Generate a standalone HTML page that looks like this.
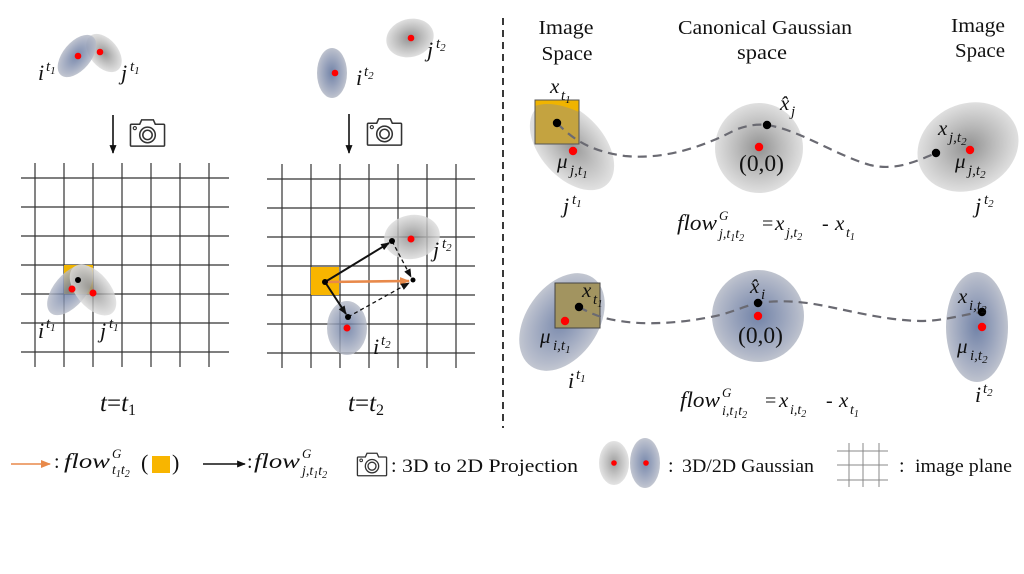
<!DOCTYPE html>
<html><head><meta charset="utf-8"><style>
html,body{margin:0;padding:0;background:#fff;}
svg{display:block}
text{font-family:"Liberation Serif",serif;fill:#111}
.it{font-style:italic}
</style></head><body>
<svg width="1024" height="574" viewBox="0 0 1024 574" xmlns="http://www.w3.org/2000/svg">
<defs>
<radialGradient id="gg" cx="50%" cy="50%" r="50%">
<stop offset="0" stop-color="#858585"/>
<stop offset="0.5" stop-color="#b3b3b3"/>
<stop offset="0.85" stop-color="#d0d0d0"/>
<stop offset="1" stop-color="#dcdcdc"/>
</radialGradient>
<radialGradient id="gb" cx="50%" cy="50%" r="50%">
<stop offset="0" stop-color="#62759e"/>
<stop offset="0.5" stop-color="#8b97b3"/>
<stop offset="0.85" stop-color="#a9b0c2"/>
<stop offset="1" stop-color="#b8bdc9"/>
</radialGradient>
<marker id="ab" viewBox="0 0 10 8" refX="9" refY="4" markerWidth="9" markerHeight="7" markerUnits="userSpaceOnUse" orient="auto"><path d="M0,0 L10,4 L0,8 z" fill="#111"/></marker>
<marker id="ao" viewBox="0 0 10 8" refX="9" refY="4" markerWidth="10" markerHeight="8" markerUnits="userSpaceOnUse" orient="auto"><path d="M0,0 L10,4 L0,8 z" fill="#e8894a"/></marker>
<symbol id="cam" viewBox="0 0 38 30">
<path d="M2.5,6 H11 L13,1.5 H25 L27,6 H35.5 Q36.5,6 36.5,7 V27.5 Q36.5,28.5 35.5,28.5 H2.5 Q1.5,28.5 1.5,27.5 V7 Q1.5,6 2.5,6 Z" fill="none" stroke="#333" stroke-width="1.6"/>
<circle cx="19" cy="17" r="8" fill="none" stroke="#333" stroke-width="1.6"/>
<circle cx="19" cy="17" r="4.8" fill="none" stroke="#333" stroke-width="1.6"/>
<circle cx="6" cy="10" r="1.6" fill="none" stroke="#333" stroke-width="1.2"/>
</symbol>
</defs>

<!-- ============ LEFT PANEL (t1) ============ -->
<ellipse cx="104" cy="53" rx="14" ry="22" transform="rotate(-40 104 53)" fill="url(#gg)" opacity="0.85"/>
<ellipse cx="77" cy="56" rx="14" ry="25" transform="rotate(40 77 56)" fill="url(#gb)" opacity="0.85"/>
<circle cx="78" cy="56" r="3.3" fill="#f00"/>
<circle cx="100" cy="52" r="3.3" fill="#f00"/>
<text x="38" y="80" class="it" font-size="22">i</text>
<text x="46" y="71" class="it" font-size="15">t<tspan font-size="11" dy="3">1</tspan></text>
<text x="121" y="80" class="it" font-size="22">j</text>
<text x="130" y="71" class="it" font-size="15">t<tspan font-size="11" dy="3">1</tspan></text>
<line x1="113" y1="115" x2="113" y2="153" stroke="#111" stroke-width="1.6" marker-end="url(#ab)"/>
<use href="#cam" x="129" y="118" width="37" height="30"/>

<g stroke="#333" stroke-width="1.2">
<path d="M35,163V367 M64,163V367 M93,163V367 M122,163V367 M151,163V367 M180,163V367 M209,163V367"/>
<path d="M21,178H229 M21,207H229 M21,236H229 M21,265H229 M21,294H229 M21,323H229 M21,352H229"/>
</g>
<rect x="64" y="265" width="29" height="29" fill="#f0b400"/>
<ellipse cx="70" cy="290" rx="16" ry="30" transform="rotate(40 70 290)" fill="url(#gb)" opacity="0.8"/>
<ellipse cx="93" cy="290" rx="17" ry="30" transform="rotate(-40 93 290)" fill="url(#gg)" opacity="0.78"/>
<circle cx="78" cy="280" r="3" fill="#000"/>
<circle cx="72" cy="289" r="3.5" fill="#f00"/>
<circle cx="93" cy="293" r="3.5" fill="#f00"/>
<text x="38" y="338" class="it" font-size="22">i</text>
<text x="46" y="328" class="it" font-size="15">t<tspan font-size="11" dy="3">1</tspan></text>
<text x="100" y="338" class="it" font-size="22">j</text>
<text x="109" y="328" class="it" font-size="15">t<tspan font-size="11" dy="3">1</tspan></text>
<text x="100" y="411" font-size="25"><tspan class="it">t</tspan>=<tspan class="it">t</tspan><tspan font-size="16" dy="4">1</tspan></text>

<!-- ============ MIDDLE PANEL (t2) ============ -->
<ellipse cx="332" cy="73" rx="15" ry="25" fill="url(#gb)" opacity="0.9"/>
<circle cx="335" cy="73" r="3.3" fill="#f00"/>
<ellipse cx="410" cy="38" rx="24" ry="19" transform="rotate(-15 410 38)" fill="url(#gg)" opacity="0.9"/>
<circle cx="411" cy="38" r="3.3" fill="#f00"/>
<text x="356" y="85" class="it" font-size="22">i</text>
<text x="364" y="76" class="it" font-size="15">t<tspan font-size="11" dy="3">2</tspan></text>
<text x="427" y="57" class="it" font-size="22">j</text>
<text x="436" y="48" class="it" font-size="15">t<tspan font-size="11" dy="3">2</tspan></text>
<line x1="349" y1="114" x2="349" y2="153" stroke="#111" stroke-width="1.6" marker-end="url(#ab)"/>
<use href="#cam" x="366" y="117" width="37" height="30"/>

<g stroke="#333" stroke-width="1.2">
<path d="M282,164V368 M311,164V368 M340,164V368 M369,164V368 M398,164V368 M427,164V368 M456,164V368"/>
<path d="M267,179H475 M267,208H475 M267,237H475 M267,266H475 M267,295H475 M267,324H475 M267,353H475"/>
</g>
<ellipse cx="412" cy="237" rx="28" ry="22" transform="rotate(-10 412 237)" fill="url(#gg)" opacity="0.82"/>
<ellipse cx="347" cy="328" rx="20" ry="27" fill="url(#gb)" opacity="0.82"/>
<circle cx="411" cy="239" r="3.5" fill="#f00"/>
<circle cx="347" cy="328" r="3.5" fill="#f00"/>
<rect x="311" y="267" width="28" height="28" fill="#f8b500"/>
<line x1="325" y1="282" x2="409" y2="281" stroke="#e8894a" stroke-width="2.6" marker-end="url(#ao)"/>
<line x1="325" y1="282" x2="389" y2="243" stroke="#111" stroke-width="2" marker-end="url(#ab)"/>
<line x1="325" y1="282" x2="346" y2="314" stroke="#111" stroke-width="2" marker-end="url(#ab)"/>
<line x1="392" y1="241" x2="411" y2="277" stroke="#111" stroke-width="1.3" stroke-dasharray="4 3" marker-end="url(#ab)"/>
<line x1="348" y1="317" x2="409" y2="283" stroke="#111" stroke-width="1.3" stroke-dasharray="4 3" marker-end="url(#ab)"/>
<circle cx="325" cy="282" r="3" fill="#000"/>
<circle cx="392" cy="241" r="3" fill="#000"/>
<circle cx="348" cy="317" r="3" fill="#000"/>
<circle cx="413" cy="280" r="2.5" fill="#000"/>
<text x="433" y="257" class="it" font-size="22">j</text>
<text x="442" y="248" class="it" font-size="15">t<tspan font-size="11" dy="3">2</tspan></text>
<text x="373" y="354" class="it" font-size="22">i</text>
<text x="381" y="345" class="it" font-size="15">t<tspan font-size="11" dy="3">2</tspan></text>
<text x="348" y="411" font-size="25"><tspan class="it">t</tspan>=<tspan class="it">t</tspan><tspan font-size="16" dy="4">2</tspan></text>

<!-- divider -->
<line x1="503" y1="18" x2="503" y2="428" stroke="#222" stroke-width="1.8" stroke-dasharray="7 5"/>

<!-- ============ RIGHT PANEL ============ -->
<text x="566" y="34" font-size="20" text-anchor="middle" textLength="55" lengthAdjust="spacingAndGlyphs">Image</text>
<text x="567" y="60" font-size="20" text-anchor="middle" textLength="51" lengthAdjust="spacingAndGlyphs">Space</text>
<text x="765" y="34" font-size="20" text-anchor="middle" textLength="174" lengthAdjust="spacingAndGlyphs">Canonical Gaussian</text>
<text x="762" y="59" font-size="20" text-anchor="middle" textLength="50" lengthAdjust="spacingAndGlyphs">space</text>
<text x="978" y="32" font-size="20" text-anchor="middle" textLength="54" lengthAdjust="spacingAndGlyphs">Image</text>
<text x="980" y="57" font-size="20" text-anchor="middle" textLength="50" lengthAdjust="spacingAndGlyphs">Space</text>

<!-- top row (j) -->
<ellipse cx="572" cy="146" rx="32" ry="52" transform="rotate(-42 572 146)" fill="url(#gg)" opacity="0.85"/>
<rect x="535" y="100" width="44" height="44" fill="#f0b400"/>
<path d="M535,106 Q552,100 579,112 L579,144 L535,144 Z" fill="#8f8f8f" opacity="0.45"/>
<rect x="535" y="100" width="44" height="44" fill="none" stroke="#555" stroke-width="1"/>
<ellipse cx="759" cy="148" rx="44" ry="45" fill="url(#gg)" opacity="0.9"/>
<ellipse cx="968" cy="147" rx="52" ry="43" transform="rotate(-25 968 147)" fill="url(#gg)" opacity="0.9"/>
<path d="M557,123 C575,142 595,152 625,156 C665,160 705,146 735,130 C748,125 757,124 767,125 C800,130 835,155 870,165 C895,171 915,162 936,153" fill="none" stroke="#6a6a72" stroke-width="2.2" stroke-dasharray="9 6"/>
<circle cx="557" cy="123" r="4.2" fill="#000"/>
<circle cx="573" cy="151" r="4.2" fill="#f00"/>
<circle cx="767" cy="125" r="4.2" fill="#000"/>
<circle cx="759" cy="147" r="4.2" fill="#f00"/>
<circle cx="936" cy="153" r="4.2" fill="#000"/>
<circle cx="970" cy="150" r="4.2" fill="#f00"/>

<text x="550" y="93" class="it" font-size="21">x</text>
<text x="561" y="100" class="it" font-size="15">t<tspan font-size="11" dy="3">1</tspan></text>
<text x="557" y="168" class="it" font-size="21">μ</text>
<text x="570" y="175" class="it" font-size="15">j,t<tspan font-size="11" dy="3">1</tspan></text>
<text x="563" y="213" class="it" font-size="22">j</text>
<text x="572" y="204" class="it" font-size="15">t<tspan font-size="11" dy="3">1</tspan></text>
<text x="780" y="110" class="it" font-size="21">x̂</text>
<text x="791" y="116" class="it" font-size="15">j</text>
<text x="739" y="171" font-size="23" textLength="45" lengthAdjust="spacingAndGlyphs">(0,0)</text>
<text x="938" y="135" class="it" font-size="21">x</text>
<text x="949" y="142" class="it" font-size="15">j,t<tspan font-size="11" dy="3">2</tspan></text>
<text x="955" y="168" class="it" font-size="21">μ</text>
<text x="968" y="175" class="it" font-size="15">j,t<tspan font-size="11" dy="3">2</tspan></text>
<text x="975" y="213" class="it" font-size="22">j</text>
<text x="984" y="204" class="it" font-size="15">t<tspan font-size="11" dy="3">2</tspan></text>

<text x="677" y="230" class="it" font-size="22" textLength="40" lengthAdjust="spacingAndGlyphs">flow</text>
<text x="719" y="220" class="it" font-size="13">G</text>
<text x="719" y="238" class="it" font-size="14">j,t<tspan font-size="10" dy="3">1</tspan><tspan dy="-3">t</tspan><tspan font-size="10" dy="3">2</tspan></text>
<text x="762" y="230" font-size="20">=</text>
<text x="775" y="230" class="it" font-size="21">x</text>
<text x="786" y="237" class="it" font-size="14">j,t<tspan font-size="10" dy="3">2</tspan></text>
<text x="822" y="230" font-size="20">-</text>
<text x="835" y="230" class="it" font-size="21">x</text>
<text x="846" y="237" class="it" font-size="14">t<tspan font-size="10" dy="3">1</tspan></text>

<!-- bottom row (i) -->
<ellipse cx="562" cy="322" rx="36" ry="54" transform="rotate(35 562 322)" fill="url(#gb)" opacity="0.85"/>
<rect x="555" y="283" width="45" height="45" fill="#f0b400"/>
<rect x="555" y="283" width="45" height="45" fill="#6e7ea0" opacity="0.6"/>
<rect x="555" y="283" width="45" height="45" fill="none" stroke="#444" stroke-width="1"/>
<ellipse cx="758" cy="316" rx="46" ry="46" fill="url(#gb)" opacity="0.9"/>
<ellipse cx="977" cy="327" rx="31" ry="55" fill="url(#gb)" opacity="0.9"/>
<path d="M579,307 C590,313 600,318 620,321 C650,326 690,322 720,315 C735,311 748,305 758,303 C780,300 800,301 825,306 C855,312 885,320 920,321 C945,321 965,314 982,312" fill="none" stroke="#6a6a72" stroke-width="2.2" stroke-dasharray="9 6"/>
<circle cx="579" cy="307" r="4.2" fill="#000"/>
<circle cx="565" cy="321" r="4.2" fill="#f00"/>
<circle cx="758" cy="303" r="4.2" fill="#000"/>
<circle cx="758" cy="316" r="4.2" fill="#f00"/>
<circle cx="982" cy="312" r="4.2" fill="#000"/>
<circle cx="982" cy="327" r="4.2" fill="#f00"/>

<text x="582" y="297" class="it" font-size="21">x</text>
<text x="593" y="304" class="it" font-size="15">t<tspan font-size="11" dy="3">1</tspan></text>
<text x="540" y="343" class="it" font-size="21">μ</text>
<text x="553" y="350" class="it" font-size="15">i,t<tspan font-size="11" dy="3">1</tspan></text>
<text x="568" y="388" class="it" font-size="22">i</text>
<text x="576" y="379" class="it" font-size="15">t<tspan font-size="11" dy="3">1</tspan></text>
<text x="750" y="293" class="it" font-size="21">x̂</text>
<text x="761" y="299" class="it" font-size="15">i</text>
<text x="738" y="343" font-size="23" textLength="45" lengthAdjust="spacingAndGlyphs">(0,0)</text>
<text x="958" y="303" class="it" font-size="21">x</text>
<text x="969" y="310" class="it" font-size="15">i,t<tspan font-size="11" dy="3">2</tspan></text>
<text x="957" y="353" class="it" font-size="21">μ</text>
<text x="970" y="360" class="it" font-size="15">i,t<tspan font-size="11" dy="3">2</tspan></text>
<text x="975" y="402" class="it" font-size="22">i</text>
<text x="983" y="393" class="it" font-size="15">t<tspan font-size="11" dy="3">2</tspan></text>

<text x="680" y="407" class="it" font-size="22" textLength="40" lengthAdjust="spacingAndGlyphs">flow</text>
<text x="722" y="397" class="it" font-size="13">G</text>
<text x="722" y="415" class="it" font-size="14">i,t<tspan font-size="10" dy="3">1</tspan><tspan dy="-3">t</tspan><tspan font-size="10" dy="3">2</tspan></text>
<text x="765" y="407" font-size="20">=</text>
<text x="779" y="407" class="it" font-size="21">x</text>
<text x="790" y="414" class="it" font-size="14">i,t<tspan font-size="10" dy="3">2</tspan></text>
<text x="826" y="407" font-size="20">-</text>
<text x="839" y="407" class="it" font-size="21">x</text>
<text x="850" y="414" class="it" font-size="14">t<tspan font-size="10" dy="3">1</tspan></text>

<!-- ============ LEGEND ============ -->
<line x1="11" y1="464" x2="50" y2="464" stroke="#e8894a" stroke-width="1.6" marker-end="url(#ao)"/>
<text x="54" y="468" font-size="20">:</text>
<text x="64" y="468" class="it" font-size="21" textLength="46" lengthAdjust="spacingAndGlyphs">flow</text>
<text x="112" y="458" class="it" font-size="13">G</text>
<text x="112" y="474" class="it" font-size="14">t<tspan font-size="10" dy="3">1</tspan><tspan dy="-3">t</tspan><tspan font-size="10" dy="3">2</tspan></text>
<text x="141" y="470" font-size="22">(</text>
<rect x="152" y="456" width="18" height="17" fill="#f8b500"/>
<text x="172" y="470" font-size="22">)</text>

<line x1="203" y1="464" x2="245" y2="464" stroke="#111" stroke-width="1.6" marker-end="url(#ab)"/>
<text x="247" y="468" font-size="20">:</text>
<text x="254" y="468" class="it" font-size="21" textLength="46" lengthAdjust="spacingAndGlyphs">flow</text>
<text x="302" y="458" class="it" font-size="13">G</text>
<text x="302" y="475" class="it" font-size="14">j,t<tspan font-size="10" dy="3">1</tspan><tspan dy="-3">t</tspan><tspan font-size="10" dy="3">2</tspan></text>

<use href="#cam" x="356" y="452" width="32" height="25"/>
<text x="391" y="472" font-size="20">:</text>
<text x="402" y="472" font-size="19" textLength="176" lengthAdjust="spacingAndGlyphs">3D to 2D Projection</text>

<ellipse cx="614" cy="463" rx="15" ry="22" fill="url(#gg)" opacity="0.8"/>
<circle cx="614" cy="463" r="2.8" fill="#f00"/>
<ellipse cx="645" cy="463" rx="15" ry="25" fill="url(#gb)" opacity="0.85"/>
<circle cx="646" cy="463" r="2.8" fill="#f00"/>
<text x="668" y="472" font-size="20">:</text>
<text x="682" y="472" font-size="19" textLength="132" lengthAdjust="spacingAndGlyphs">3D/2D Gaussian</text>

<g stroke="#888" stroke-width="1">
<path d="M849,443V487 M863,443V487 M879,443V487"/>
<path d="M837,451H888 M837,465H888 M837,480H888"/>
</g>
<text x="899" y="472" font-size="20">:</text>
<text x="915" y="472" font-size="19" textLength="97" lengthAdjust="spacingAndGlyphs">image plane</text>
</svg>
</body></html>
